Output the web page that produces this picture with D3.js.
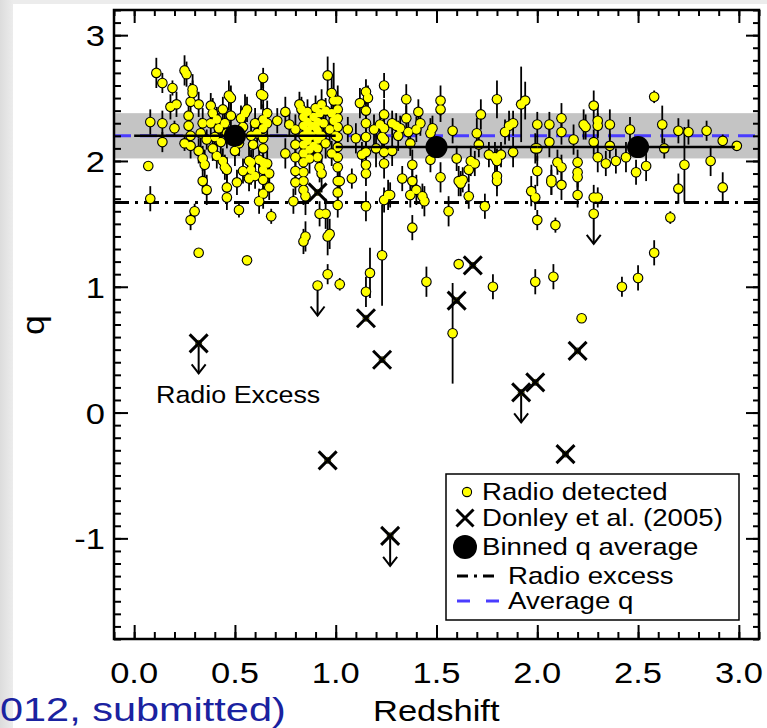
<!DOCTYPE html>
<html>
<head>
<meta charset="utf-8">
<script src="https://cdnjs.cloudflare.com/ajax/libs/d3/7.8.5/d3.min.js"></script>
<style>
  body { margin: 0; background: #fff; }
  svg text { font-family: "Liberation Sans", Arial, Helvetica, sans-serif; }
</style>
</head>
<body>
<div id="viz"></div>
<script>
// radio detected sources: [redshift, q, error]
const radioDetected = [
  [0.07,1.96,0.02],[0.08,1.70,0.10],[0.08,2.31,0.10],[0.11,2.70,0.12],[0.14,2.62,0.08],
  [0.14,2.30,0.10],[0.14,2.15,0.08],[0.18,2.43,0.10],[0.19,2.58,0.06],[0.20,2.26,0.06],
  [0.21,2.45,0.10],[0.25,2.72,0.12],[0.26,2.69,0.10],[0.27,2.36,0.12],[0.27,2.28,0.10],
  [0.28,2.47,0.15],[0.28,2.20,0.10],[0.29,2.57,0.12],[0.29,2.54,0.10],[0.25,2.14,0.06],
  [0.28,2.12,0.10],[0.28,1.53,0.08],[0.30,1.60,0.06],[0.32,1.27,0.03],[0.32,2.45,0.10],
  [0.32,2.08,0.10],[0.33,2.22,0.12],[0.34,2.30,0.12],[0.34,2.02,0.10],[0.34,1.84,0.10],
  [0.35,1.97,0.12],[0.36,1.77,0.12],[0.36,2.17,0.08],
  [0.38,2.44,0.10],[0.38,2.30,0.10],[0.39,2.38,0.12],[0.39,2.10,0.10],[0.40,2.19,0.10],
  [0.41,2.33,0.10],[0.41,2.04,0.10],[0.42,2.26,0.12],[0.43,2.15,0.12],[0.44,2.41,0.10],
  [0.44,2.00,0.10],[0.45,2.30,0.10],[0.45,1.95,0.10],[0.46,2.22,0.12],[0.46,1.93,0.10],
  [0.46,1.79,0.12],[0.46,1.71,0.10],[0.47,2.52,0.12],[0.48,2.50,0.10],[0.48,2.36,0.15],
  [0.50,2.08,0.12],[0.51,1.83,0.10],[0.52,2.14,0.10],[0.52,1.61,0.06],[0.53,2.34,0.10],
  [0.54,2.27,0.10],[0.54,1.92,0.10],[0.55,2.38,0.15],[0.56,2.41,0.10],[0.56,1.21,0.02],
  [0.57,2.00,0.12],[0.57,1.86,0.10],[0.58,2.20,0.10],[0.58,1.99,0.10],[0.58,1.93,0.12],
  [0.59,2.13,0.10],[0.60,2.30,0.12],[0.60,1.88,0.10],[0.61,2.22,0.12],[0.62,2.01,0.08],
  [0.62,1.68,0.10],[0.63,2.53,0.12],[0.64,2.66,0.08],[0.64,2.52,0.10],[0.64,2.33,0.12],
  [0.64,2.26,0.10],[0.64,2.18,0.10],[0.64,2.10,0.12],[0.64,1.99,0.10],[0.64,1.93,0.12],
  [0.64,1.85,0.10],[0.64,1.74,0.12],[0.66,2.38,0.10],[0.66,2.30,0.12],[0.66,1.98,0.10],
  [0.67,1.90,0.10],[0.67,1.79,0.10],[0.68,1.56,0.06],
  [0.71,2.32,0.10],[0.75,2.39,0.12],[0.75,2.06,0.12],[0.77,2.29,0.10],[0.79,1.68,0.10],
  [0.80,2.25,0.12],[0.80,2.13,0.12],[0.80,2.03,0.10],[0.80,1.92,0.12],[0.80,1.83,0.10],
  [0.82,2.45,0.10],[0.83,2.41,0.10],[0.84,2.35,0.12],[0.84,2.28,0.10],[0.84,2.20,0.12],
  [0.84,2.13,0.10],[0.84,2.06,0.12],[0.84,1.99,0.10],[0.84,1.91,0.12],[0.84,1.84,0.10],
  [0.84,1.77,0.12],[0.85,1.72,0.15],[0.85,1.40,0.12],[0.84,1.36,0.10],[0.86,2.39,0.10],
  [0.86,2.31,0.12],[0.86,2.24,0.10],[0.86,2.16,0.12],[0.87,2.09,0.10],[0.87,2.02,0.12],
  [0.88,2.28,0.10],[0.88,2.20,0.12],[0.89,2.35,0.10],[0.89,2.12,0.12],[0.90,2.42,0.10],
  [0.90,2.27,0.12],[0.91,2.31,0.12],[0.91,2.24,0.10],[0.91,2.17,0.12],[0.91,2.10,0.10],
  [0.91,2.03,0.12],[0.92,2.38,0.10],[0.92,1.95,0.12],[0.92,1.58,0.10],[0.93,2.45,0.12],
  [0.93,2.20,0.10],[0.93,1.90,0.15],[0.94,2.30,0.10],[0.95,1.58,0.12],[0.95,2.40,0.10],
  [0.95,2.14,0.12],[0.96,2.68,0.15],[0.96,1.40,0.15],[0.96,1.10,0.08],[0.97,1.42,0.12],
  [0.97,2.25,0.10],[0.98,2.54,0.15],[0.98,2.38,0.12],[0.98,2.06,0.10],[0.99,2.48,0.30],
  [0.99,2.32,0.10],[1.00,2.20,0.10],[1.01,2.48,0.12],[1.01,2.41,0.10],[1.01,2.34,0.12],
  [1.01,2.27,0.10],[1.01,2.19,0.12],[1.01,2.11,0.10],[1.01,2.03,0.12],[1.01,1.95,0.10],
  [1.01,1.84,0.12],[1.01,1.75,0.10],[1.01,1.65,0.10],[1.02,1.02,0.05],[1.02,1.84,0.10],
  [1.06,2.25,0.10],[1.08,1.86,0.08],[1.10,2.18,0.12],[1.12,2.46,0.12],[1.13,2.05,0.10],
  [1.15,2.55,0.10],[1.15,2.40,0.12],[1.15,2.30,0.10],[1.15,2.19,0.12],[1.15,2.07,0.10],
  [1.15,1.97,0.12],[1.15,1.90,0.10],[1.15,1.64,0.12],[1.15,0.96,0.12],[1.16,2.50,0.10],
  [1.17,1.11,0.20],[1.19,2.25,0.12],[1.20,2.10,0.15],[1.23,1.25,0.40],[1.22,2.29,0.10],
  [1.23,2.19,0.12],[1.24,2.60,0.10],[1.24,2.37,0.12],[1.24,2.26,0.10],[1.24,2.17,0.12],
  [1.24,2.07,0.10],[1.24,1.98,0.12],[1.24,1.69,0.10],[1.26,1.73,0.12],[1.27,1.73,0.10],
  [1.28,2.30,0.10],[1.28,2.08,0.12],[1.30,2.28,0.10],[1.31,2.20,0.12],[1.32,2.26,0.10],
  [1.33,1.86,0.10],[1.35,2.49,0.12],[1.35,2.34,0.10],[1.36,2.23,0.12],[1.37,2.14,0.10],
  [1.37,1.73,0.10],[1.38,1.97,0.12],[1.38,1.84,0.10],[1.38,1.47,0.10],[1.40,2.25,0.10],
  [1.40,1.77,0.12],[1.41,2.39,0.10],[1.42,2.30,0.10],[1.43,1.72,0.10],[1.44,1.68,0.12],
  [1.45,1.04,0.12],[1.47,2.22,0.12],[1.47,2.01,0.10],[1.48,2.26,0.10],[1.52,2.48,0.12],
  [1.52,2.41,0.10],[1.52,1.87,0.12],
  [1.56,1.60,0.12],[1.58,2.24,0.10],[1.58,0.63,0.40],[1.60,2.02,0.10],[1.61,1.84,0.12],
  [1.62,1.82,0.10],[1.61,1.18,0.04],[1.63,1.85,0.10],[1.66,1.93,0.10],[1.66,1.72,0.10],
  [1.67,2.00,0.12],[1.69,1.98,0.10],[1.70,2.22,0.12],[1.71,2.13,0.10],[1.72,2.37,0.12],
  [1.74,1.64,0.10],[1.76,2.05,0.10],[1.78,1.00,0.10],[1.79,2.03,0.12],[1.80,2.49,0.15],
  [1.80,2.00,0.10],[1.80,1.88,0.10],[1.80,1.84,0.12],[1.82,2.05,0.10],[1.84,2.23,0.10],
  [1.86,2.28,0.12],[1.88,2.30,0.10],[1.88,2.07,0.12],[1.92,2.45,0.30],[1.94,2.48,0.15],
  [1.97,1.76,0.12],[1.99,2.10,0.12],[1.99,1.71,0.10],[2.00,2.29,0.10],[2.00,1.92,0.12],
  [2.00,1.53,0.08],[2.00,2.10,0.10],[1.99,1.04,0.10],
  [2.06,2.15,0.12],[2.06,2.29,0.10],[2.07,1.85,0.12],[2.07,1.83,0.10],[2.08,1.08,0.10],
  [2.09,1.49,0.06],[2.10,1.99,0.10],[2.12,2.34,0.12],[2.12,2.23,0.10],[2.12,1.95,0.10],
  [2.12,1.81,0.12],[2.18,2.17,0.12],[2.20,1.99,0.10],[2.20,1.91,0.12],[2.20,1.87,0.10],
  [2.20,1.73,0.10],[2.22,0.75,0.02],[2.23,2.29,0.12],[2.24,2.27,0.10],[2.28,2.44,0.12],
  [2.28,2.15,0.10],[2.28,1.71,0.10],[2.30,2.32,0.12],[2.30,2.28,0.10],[2.30,2.03,0.12],
  [2.30,1.71,0.08],[2.34,1.98,0.10],[2.36,2.29,0.12],[2.36,2.12,0.10],[2.39,2.00,0.10],
  [2.42,1.00,0.08],[2.44,2.03,0.12],[2.46,2.25,0.10],[2.49,1.91,0.10],[2.50,1.07,0.10],
  [2.54,1.96,0.12],[2.58,2.51,0.05],[2.58,1.27,0.10],[2.62,2.29,0.15],[2.63,2.10,0.08],
  [2.66,1.55,0.05],[2.70,2.24,0.10],[2.70,1.78,0.12],[2.73,1.97,0.30],[2.75,2.23,0.10],
  [2.84,2.24,0.08],[2.86,2.00,0.12],[2.92,2.16,0.05],[2.92,1.79,0.12],[2.99,2.12,0.03]
];

// radio detected upper limits: [redshift, q]
const radioLimits = [[0.91,1.01],[2.28,1.58]];

// Donley et al. (2005) sources: [redshift, q]
const donley = [
  [0.32,0.55],[0.91,1.75],[0.96,-0.38],[1.15,0.75],[1.23,0.42],[1.27,-0.98],
  [1.60,0.89],[1.68,1.17],[1.92,0.16],[1.99,0.24],[2.14,-0.33],[2.20,0.49]
];
const donleyLimits = [[0.32,0.55],[1.27,-0.98],[1.92,0.16]];

// binned averages
const binZ = [0.5, 1.5, 2.5];
const binQ = [2.20, 2.11, 2.11];
const binLo = [0.0, 1.0, 2.0];
const binHi = [1.0, 2.0, 2.98];

const averageQ = 2.20;
const averageBand = [2.02, 2.38];
const radioExcessQ = 1.67;

const xTickValues = [0, 0.5, 1, 1.5, 2, 2.5, 3];
const xTickLabels = ["0.0", "0.5", "1.0", "1.5", "2.0", "2.5", "3.0"];
const yTickValues = [-1, 0, 1, 2, 3];
const yTickLabels = ["-1", "0", "1", "2", "3"];

const legendLabels = ["Radio detected", "Donley et al. (2005)", "Binned q average", "Radio excess", "Average q"];

const W = 767, H = 728;
const plot = { left: 114, right: 759, top: 10, bottom: 639 };
const SX = 1.15;

const svg = d3.select("#viz").append("svg").attr("width", W).attr("height", H);

// slide background
const bg = svg.append("defs").append("linearGradient").attr("id", "slide");
bg.append("stop").attr("offset", "0%").attr("stop-color", "#dcdcdc");
bg.append("stop").attr("offset", "100%").attr("stop-color", "#ececec");
svg.append("rect").attr("width", W).attr("height", H).attr("fill", "#ececec");
svg.append("rect").attr("width", 13).attr("height", H).attr("fill", "url(#slide)");
svg.append("rect").attr("x", 13).attr("y", 4).attr("width", W - 13).attr("height", H - 4).attr("fill", "#fff");

const x = d3.scaleLinear().domain([-0.1, 3.1]).range([plot.left, plot.right]);
const y = d3.scaleLinear().domain([-1.8, 3.2]).range([plot.bottom, plot.top]);

function label(parent, px, py, str, size, anchor, fill, sx) {
  return parent.append("text")
    .attr("transform", `translate(${px},${py}) scale(${sx || SX},1)`)
    .attr("text-anchor", anchor || "start")
    .attr("fill", fill || "#000")
    .style("font-size", size + "px")
    .text(str);
}

svg.append("clipPath").attr("id", "clip").append("rect")
  .attr("x", plot.left).attr("y", plot.top)
  .attr("width", plot.right - plot.left).attr("height", plot.bottom - plot.top);

const g = svg.append("g").attr("clip-path", "url(#clip)");

// grey band around average q
g.append("rect")
  .attr("x", plot.left).attr("width", plot.right - plot.left)
  .attr("y", y(averageBand[1])).attr("height", y(averageBand[0]) - y(averageBand[1]))
  .attr("fill", "#c4c4c4");

// radio excess threshold
g.append("line")
  .attr("x1", plot.left).attr("x2", plot.right)
  .attr("y1", y(radioExcessQ)).attr("y2", y(radioExcessQ))
  .attr("stroke", "#000").attr("stroke-width", 3)
  .attr("stroke-dasharray", "15,6,3,6");

// average q
g.append("line")
  .attr("x1", plot.left).attr("x2", plot.right)
  .attr("y1", y(averageQ)).attr("y2", y(averageQ))
  .attr("stroke", "#4a3cff").attr("stroke-width", 3)
  .attr("stroke-dasharray", "17,9");

// error bars
g.selectAll("line.err").data(radioDetected).enter().append("line")
  .attr("class", "err")
  .attr("x1", d => x(d[0])).attr("x2", d => x(d[0]))
  .attr("y1", d => y(d[1] - d[2])).attr("y2", d => y(d[1] + d[2]))
  .attr("stroke", "#000").attr("stroke-width", 1.8);

// upper-limit arrows
function arrow(z, q) {
  const cx = x(z), y0 = y(q), y1 = y0 + 30;
  g.append("line").attr("x1", cx).attr("x2", cx).attr("y1", y0).attr("y2", y1)
    .attr("stroke", "#000").attr("stroke-width", 2);
  g.append("path").attr("d", `M${cx - 7},${y1 - 9}L${cx},${y1}L${cx + 7},${y1 - 9}`)
    .attr("fill", "none").attr("stroke", "#000").attr("stroke-width", 2);
}
radioLimits.forEach(d => arrow(d[0], d[1]));
donleyLimits.forEach(d => arrow(d[0], d[1]));

// radio detected points: outlines first, then fills, so crowded points merge
const allRadio = radioDetected.concat(radioLimits);
g.selectAll("circle.rim").data(allRadio).enter().append("circle")
  .attr("class", "rim")
  .attr("cx", d => x(d[0])).attr("cy", d => y(d[1])).attr("r", 5.3)
  .attr("fill", "#000");
g.selectAll("circle.radio").data(allRadio).enter().append("circle")
  .attr("class", "radio")
  .attr("cx", d => x(d[0])).attr("cy", d => y(d[1])).attr("r", 4.2)
  .attr("fill", "#ffff00");

// Donley sources
function cross(parent, cx, cy, s, w) {
  parent.append("path")
    .attr("d", `M${cx - s},${cy - s}L${cx + s},${cy + s}M${cx - s},${cy + s}L${cx + s},${cy - s}`)
    .attr("stroke", "#000").attr("stroke-width", w).attr("fill", "none");
}
donley.forEach(d => {
  g.append("circle").attr("cx", x(d[0])).attr("cy", y(d[1])).attr("r", 3)
    .attr("fill", "#ffff00").attr("stroke", "#000").attr("stroke-width", 0.8);
  cross(g, x(d[0]), y(d[1]), 9, 3);
});

// binned averages
binZ.forEach((z, i) => {
  g.append("line")
    .attr("x1", x(binLo[i])).attr("x2", x(binHi[i]))
    .attr("y1", y(binQ[i])).attr("y2", y(binQ[i]))
    .attr("stroke", "#000").attr("stroke-width", 2.5);
  g.append("circle").attr("cx", x(z)).attr("cy", y(binQ[i])).attr("r", 11).attr("fill", "#000");
});

label(svg, 156, 403, "Radio Excess", 24, "start", "#000", 1.12);

// legend
const lg = svg.append("g");
lg.append("rect").attr("x", 446).attr("y", 474).attr("width", 293).attr("height", 146)
  .attr("fill", "#fff").attr("stroke", "#000").attr("stroke-width", 1.5);
const rowY = [492, 518, 547, 576, 601];
const baseY = [500, 526, 555, 584, 609];
lg.append("circle").attr("cx", 467).attr("cy", rowY[0]).attr("r", 4.6)
  .attr("fill", "#ffff00").attr("stroke", "#000").attr("stroke-width", 1.1);
cross(lg, 465, rowY[1], 8.5, 3);
lg.append("circle").attr("cx", 465).attr("cy", rowY[2]).attr("r", 12).attr("fill", "#000");
lg.append("line").attr("x1", 457).attr("x2", 499).attr("y1", rowY[3]).attr("y2", rowY[3])
  .attr("stroke", "#000").attr("stroke-width", 3).attr("stroke-dasharray", "11,6,3,6");
lg.append("line").attr("x1", 457).attr("x2", 499).attr("y1", rowY[4]).attr("y2", rowY[4])
  .attr("stroke", "#4a3cff").attr("stroke-width", 3).attr("stroke-dasharray", "13,16");
const legendX = [482, 482, 482, 508, 508];
legendLabels.forEach((t, i) => label(lg, legendX[i], baseY[i], t, 24, "start", "#000", 1.15));

// ticks on all four sides, pointing inward
const minorX = d3.range(-1, 32).map(v => v / 10);
const minorY = d3.range(-18, 33).map(v => v / 10);
function tickAxis(axis, tx, ty) {
  const a = svg.append("g").attr("transform", `translate(${tx},${ty})`).call(axis);
  a.select(".domain").remove();
  a.selectAll("line").attr("stroke-width", 2);
  a.selectAll("text").remove();
}
tickAxis(d3.axisBottom(x).tickValues(minorX).tickSize(-7), 0, plot.bottom);
tickAxis(d3.axisBottom(x).tickValues(xTickValues).tickSize(-14), 0, plot.bottom);
tickAxis(d3.axisTop(x).tickValues(minorX).tickSize(-6), 0, plot.top);
tickAxis(d3.axisTop(x).tickValues(xTickValues).tickSize(-13), 0, plot.top);
tickAxis(d3.axisLeft(y).tickValues(minorY).tickSize(-7), plot.left, 0);
tickAxis(d3.axisLeft(y).tickValues(yTickValues).tickSize(-14), plot.left, 0);
tickAxis(d3.axisRight(y).tickValues(minorY).tickSize(-6), plot.right, 0);
tickAxis(d3.axisRight(y).tickValues(yTickValues).tickSize(-13), plot.right, 0);

svg.append("rect")
  .attr("x", plot.left).attr("y", plot.top)
  .attr("width", plot.right - plot.left).attr("height", plot.bottom - plot.top)
  .attr("fill", "none").attr("stroke", "#000").attr("stroke-width", 2.5);

// tick labels
xTickValues.forEach((v, i) => label(svg, x(v), 683, xTickLabels[i], 30, "middle"));
yTickValues.forEach((v, i) => label(svg, 105, y(v) + 11, yTickLabels[i], 30, "end"));

// axis titles
label(svg, 373, 721, "Redshift", 30, "start");
svg.append("text")
  .attr("transform", `translate(44,325) rotate(-90) scale(${SX},1)`)
  .attr("text-anchor", "middle")
  .style("font-size", "31px")
  .text("q");

// citation fragment from the slide
label(svg, 0, 721, "012, submitted)", 34, "start", "#1a22a0", 1.22);
</script>
</body>
</html>
